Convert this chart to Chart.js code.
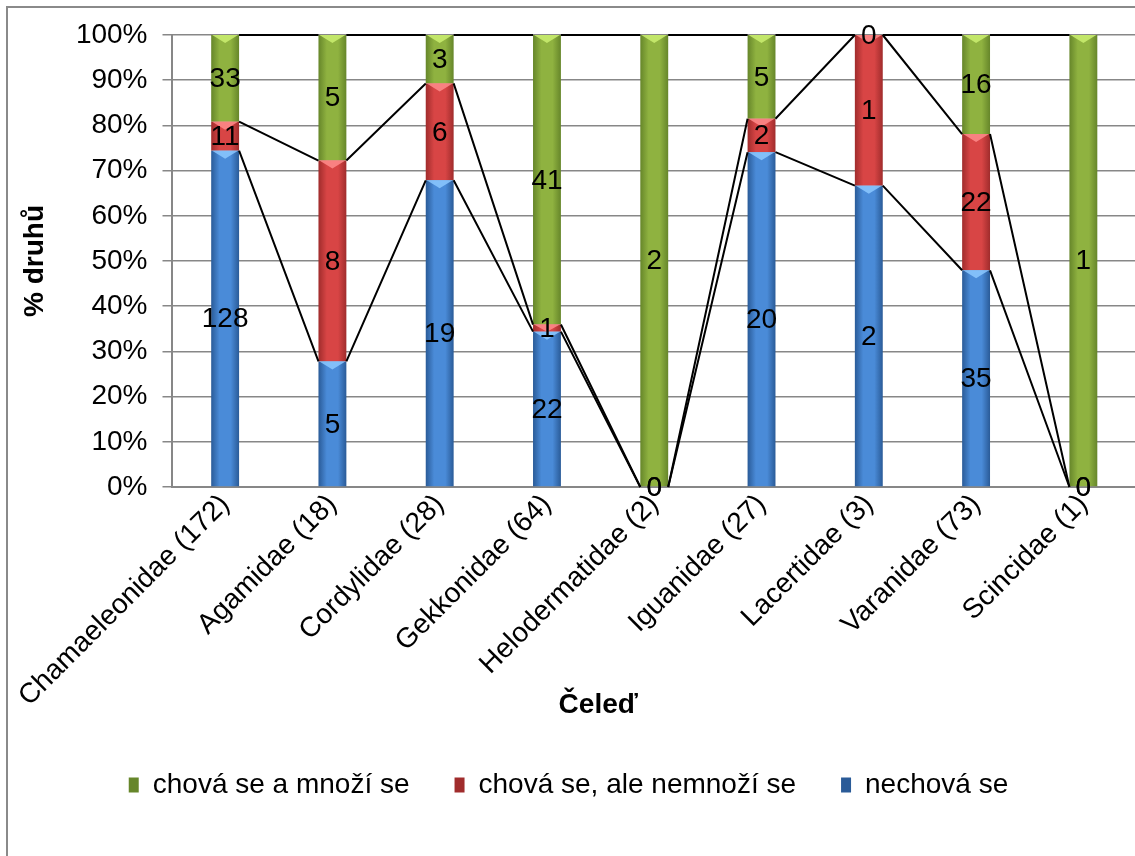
<!DOCTYPE html>
<html>
<head>
<meta charset="utf-8">
<title>Čeleď</title>
<script src="https://cdn.jsdelivr.net/npm/chart.js@4.4.1/dist/chart.umd.min.js"></script>
<style>
    html, body { margin: 0; padding: 0; background: #fff; overflow: hidden; }
    #wrap { position: absolute; left: 0; top: 0; width: 1137px; height: 856px; }
</style>
</head>
<body>
<div id="wrap"><canvas id="chart"></canvas></div>
<script>
// data (počty druhů)
const categories = ['Chamaeleonidae (172)', 'Agamidae (18)', 'Cordylidae (28)', 'Gekkonidae (64)',
    'Helodermatidae (2)', 'Iguanidae (27)', 'Lacertidae (3)', 'Varanidae (73)', 'Scincidae (1)'];
const nechovaSe = [128, 5, 19, 22, 0, 20, 2, 35, 0];
const chovaNemnozi = [11, 8, 6, 1, 0, 2, 1, 22, 0];
const chovaMnozi = [33, 5, 3, 41, 2, 5, 0, 16, 1];
const seriesNames = ['nechová se', 'chová se, ale nemnoží se', 'chová se a množí se'];
const yTickValues = [0, 10, 20, 30, 40, 50, 60, 70, 80, 90, 100];

const totals = categories.map((c, i) => nechovaSe[i] + chovaNemnozi[i] + chovaMnozi[i]);
const toPct = arr => arr.map((v, i) => v / totals[i] * 100);

const BAR_PCT = 0.26;
const FONT = '"Liberation Sans", Arial, sans-serif';
const GRID = '#878787';

const looks = [
    { edge: '#2a5b98', mid: '#4a8bd8', hi: 'rgba(140,200,255,0.85)' },
    { edge: '#a02c2c', mid: '#d84545', hi: 'rgba(255,140,140,0.85)' },
    { edge: '#66862a', mid: '#8fb240', hi: 'rgba(200,235,110,0.9)' }
];

function barFill(look) {
    return (c) => {
        const chart = c.chart;
        if (c.type !== 'data' || !chart.chartArea || !chart.scales.x) return look.mid;
        const x = chart.scales.x.getPixelForValue(c.dataIndex);
        const half = chart.scales.x.width / categories.length * BAR_PCT / 2;
        const g = chart.ctx.createLinearGradient(x - half, 0, x + half, 0);
        g.addColorStop(0, look.edge);
        g.addColorStop(0.3, look.mid);
        g.addColorStop(0.7, look.mid);
        g.addColorStop(1, look.edge);
        return g;
    };
}

const frame = {
    id: 'frame',
    beforeDraw(chart) {
        const ctx = chart.ctx;
        ctx.save();
        ctx.strokeStyle = '#8a8a8a';
        ctx.lineWidth = 2;
        ctx.strokeRect(7, 7, chart.width + 20, chart.height + 20);
        ctx.restore();
    }
};

const decorations = {
    id: 'decorations',
    afterDatasetsDraw(chart) {
        const ctx = chart.ctx;
        const counts = [nechovaSe, chovaNemnozi, chovaMnozi];
        ctx.save();
        // horní zkosení segmentů
        chart.data.datasets.forEach((ds, di) => {
            chart.getDatasetMeta(di).data.forEach(bar => {
                const h = bar.base - bar.y;
                if (h < 2) return;
                const l = bar.x - bar.width / 2, r = bar.x + bar.width / 2;
                ctx.fillStyle = looks[di].hi;
                ctx.beginPath();
                ctx.moveTo(l + 1, bar.y);
                ctx.lineTo(r - 1, bar.y);
                ctx.lineTo(bar.x, bar.y + Math.min(8, h));
                ctx.closePath();
                ctx.fill();
            });
        });
        // spojnice řad
        ctx.strokeStyle = '#000';
        ctx.lineWidth = 2;
        chart.data.datasets.forEach((ds, di) => {
            const bars = chart.getDatasetMeta(di).data;
            ctx.beginPath();
            for (let i = 0; i < bars.length - 1; i++) {
                const a = bars[i], b = bars[i + 1];
                ctx.moveTo(a.x + a.width / 2, a.y);
                ctx.lineTo(b.x - b.width / 2, b.y);
            }
            ctx.stroke();
        });
        // popisky hodnot
        ctx.fillStyle = '#000';
        ctx.font = '28px ' + FONT;
        ctx.textAlign = 'center';
        ctx.textBaseline = 'middle';
        chart.data.datasets.forEach((ds, di) => {
            chart.getDatasetMeta(di).data.forEach((bar, i) => {
                ctx.fillText(String(counts[di][i]), bar.x, (bar.y + bar.base) / 2 + 1);
            });
        });
        // název osy x
        ctx.font = 'bold 28px ' + FONT;
        const xs = chart.scales.x;
        ctx.fillText('Čeleď', (xs.left + xs.right) / 2 - 56, xs.bottom - 21);
        ctx.restore();
    }
};

const ctx = document.getElementById('chart').getContext('2d');
new Chart(ctx, {
    type: 'bar',
    data: {
        labels: categories,
        datasets: [
            { label: seriesNames[0], data: toPct(nechovaSe), backgroundColor: barFill(looks[0]) },
            { label: seriesNames[1], data: toPct(chovaNemnozi), backgroundColor: barFill(looks[1]) },
            { label: seriesNames[2], data: toPct(chovaMnozi), backgroundColor: barFill(looks[2]) }
        ]
    },
    options: {
        responsive: true,
        maintainAspectRatio: false,
        animation: false,
        layout: { padding: { top: 35, bottom: 47, left: 0, right: 0 } },
        datasets: {
            bar: { categoryPercentage: 1, barPercentage: BAR_PCT, borderWidth: 0 }
        },
        scales: {
            x: {
                stacked: true,
                grid: { display: false, drawTicks: false, tickLength: 0 },
                border: { display: true, color: GRID, width: 2 },
                ticks: {
                    color: '#000',
                    font: { family: FONT, size: 28 },
                    minRotation: 45,
                    maxRotation: 45,
                    padding: 1,
                    autoSkip: false
                },
                title: { display: false },
                afterFit(scale) {
                    scale.height = 239;
                    scale.paddingLeft = 0;
                    scale.paddingRight = 0;
                }
            },
            y: {
                stacked: true,
                min: 0,
                max: 100,
                grid: { color: GRID, lineWidth: 1.5, tickLength: 9 },
                border: { display: true, color: GRID, width: 2 },
                afterBuildTicks(scale) {
                    scale.ticks = yTickValues.map(v => ({ value: v }));
                },
                ticks: {
                    color: '#000',
                    font: { family: FONT, size: 28 },
                    padding: 15,
                    callback: v => v + '%'
                },
                title: {
                    display: true,
                    text: '% druhů',
                    color: '#000',
                    font: { family: FONT, size: 28, weight: 'bold' },
                    padding: { top: 18, bottom: 0 }
                },
                afterFit(scale) {
                    scale.width = 171.5;
                }
            }
        },
        plugins: {
            legend: {
                position: 'bottom',
                reverse: true,
                labels: {
                    color: '#000',
                    font: { family: FONT, size: 28 },
                    boxWidth: 10,
                    boxHeight: 15,
                    padding: 45
                }
            },
            tooltip: { enabled: false }
        }
    },
    plugins: [frame, decorations]
});
</script>
</body>
</html>
